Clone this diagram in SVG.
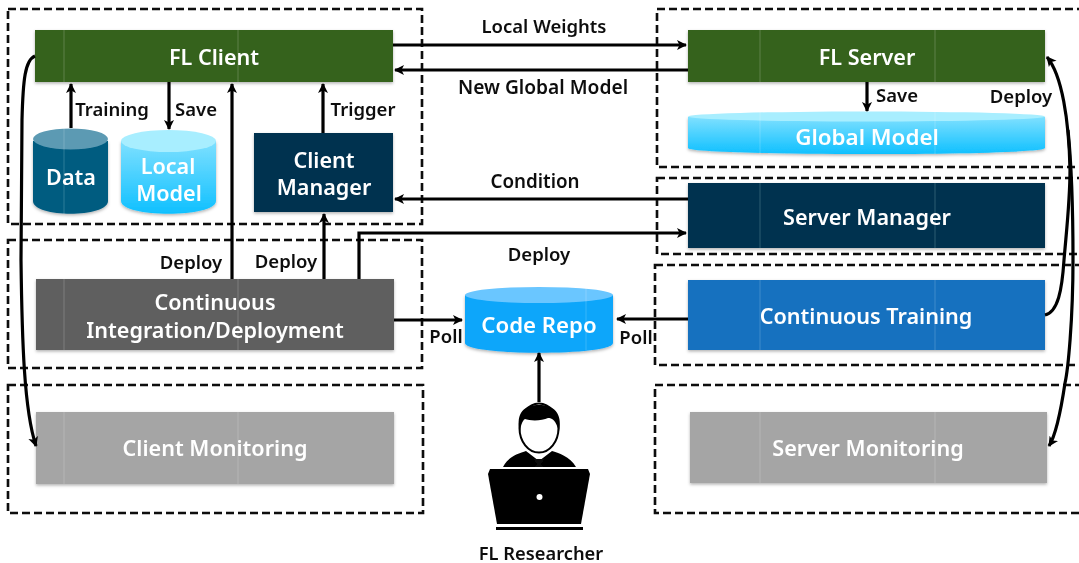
<svg xmlns="http://www.w3.org/2000/svg" width="1079" height="563" viewBox="0 0 1079 563">
<style>
text{font-family:"Noto Sans","Open Sans","Liberation Sans",sans-serif;text-anchor:middle}
.w{fill:#fff;font-weight:600;font-size:21.6px}
.k{fill:#111;font-weight:600;font-size:18.5px}
.d{fill:none;stroke:#111;stroke-width:2.6;stroke-dasharray:8 4}
.c{fill:none;stroke:#000;stroke-width:3.2;marker-end:url(#a)}
.l{fill:none;stroke:#000;stroke-width:3.2}
.s{filter:url(#sh)}
.g{fill:#36621a}.n{fill:#02304f}.m{fill:#a5a5a5}
.seam{fill:none;stroke:#fff;stroke-opacity:.2;stroke-width:1}
</style>
<defs>
<marker id="a" markerUnits="userSpaceOnUse" markerWidth="12" markerHeight="12" refX="9" refY="6" orient="auto"><path d="M0,1 L10,6 L0,11 L2.500,6 Z" fill="#000"/></marker>
<filter id="sh" x="-5%" y="-10%" width="110%" height="125%"><feDropShadow dx="0" dy="1.500" stdDeviation="1.500" flood-color="#000" flood-opacity=".3"/></filter>
<filter id="soft"><feGaussianBlur stdDeviation=".45"/></filter>
<linearGradient id="lb" x1="0" y1="0" x2="0" y2="1"><stop offset="0" stop-color="#7fe0ff"/><stop offset="1" stop-color="#0fc0ff"/></linearGradient>
</defs>
<rect width="1079" height="563" fill="#fff"/>
<g filter="url(#soft)">
<g id="zones">
<rect class="d" x="8" y="9" width="414" height="215"/>
<rect class="d" x="8" y="240" width="414" height="128"/>
<rect class="d" x="8" y="385" width="415" height="128"/>
<rect class="d" x="657" y="9" width="430" height="158"/>
<rect class="d" x="657" y="178" width="430" height="76"/>
<rect class="d" x="655" y="265" width="430" height="100"/>
<rect class="d" x="655" y="385" width="430" height="128"/>
</g>
<g id="fl-client"><rect class="g s" x="35" y="30" width="358" height="52"/><text class="w" x="214" y="65">FL Client</text></g>
<g id="data"><path class="s" d="M33,141 V201 C33,218 108,218 108,201 V141 Z" fill="#045c80"/><ellipse cx="70.500" cy="139" rx="37.500" ry="10.500" fill="#5b9ab3"/><text class="w" x="71" y="185">Data</text></g>
<g id="local-model"><path class="s" d="M121,141 V201 C121,218 216,218 216,201 V141 Z" fill="url(#lb)"/><ellipse cx="168.500" cy="141" rx="47.500" ry="11" fill="#a8eeff"/><text class="w" x="168" y="174">Local<tspan x="169" dy="27">Model</tspan></text></g>
<g id="client-manager"><rect class="n s" x="254" y="133" width="139" height="79"/><text class="w" x="324" y="168">Client<tspan x="324" dy="27">Manager</tspan></text></g>
<g id="fl-server"><rect class="g s" x="688" y="30" width="357" height="52"/><text class="w" x="867" y="65">FL Server</text></g>
<g id="global-model"><path class="s" d="M688,117 V148 C688,156 1045,156 1045,148 V117 Z" fill="url(#lb)"/><ellipse cx="866.500" cy="116.500" rx="178.500" ry="5" fill="#a8eeff"/><text class="w" style="font-size:22.400px" x="867" y="145">Global Model</text></g>
<g id="server-manager"><rect class="n s" x="688" y="183" width="357" height="65"/><text class="w" x="867" y="225">Server Manager</text></g>
<g id="continuous-training"><rect class="s" fill="#1271bf" x="688" y="280" width="357" height="70"/><text class="w" x="866" y="324">Continuous Training</text></g>
<g id="server-monitoring"><rect class="m s" x="690" y="412" width="357" height="71"/><text class="w" x="868" y="456">Server Monitoring</text></g>
<g id="ci-cd"><rect class="s" fill="#5f5f5f" x="36" y="279" width="358" height="71"/><text class="w" x="215" y="310">Continuous<tspan x="215" dy="28">Integration/Deployment</tspan></text></g>
<g id="client-monitoring"><rect class="m s" x="36" y="412" width="358" height="72"/><text class="w" x="215" y="456">Client Monitoring</text></g>
<g id="code-repo"><path class="s" d="M465,295 V343 C465,356 613,356 613,343 V295 Z" fill="#0da6fa"/><ellipse cx="539" cy="295" rx="74" ry="8" fill="#6bc6ff"/><text class="w" style="font-size:22.200px" x="539" y="333">Code Repo</text></g>
<path class="seam" d="M64,30V82M238,30V82M64,128V214M64,279V350M238,279V350M64,412V484M238,412V484M760,30V82M935,30V82M760,112V154M935,112V154M760,183V248M935,183V248M760,280V350M935,280V350M760,412V483M935,412V483M586,288V350"/>
<g id="fl-researcher">
<path d="M503,467 C508,456 520,453 526,451 L539,461 L552,451 C558,453 570,456 576,467 Z" fill="#000"/>
<path d="M534,459 H544 L541,464 L543,467 H535 L537,464 Z" fill="#111"/>
<ellipse cx="539" cy="428" rx="19.500" ry="24.500" fill="#fff" stroke="#000" stroke-width="2"/>
<path d="M520,432 C515,412 525,405 539,405 C553,405 563,412 559,432 C556,420 552,418 548,418 C542,421 530,421 525,419 C522,421 521,425 520,432 Z" fill="#000"/>
<path d="M490,469 H588 L590,474 L581,524 H497 L488,474 Z" fill="#000"/>
<circle cx="539.500" cy="497" r="3" fill="#fff"/>
<rect x="496" y="527" width="87" height="3" fill="#000"/>
<text class="k" style="font-size:18.300px" x="541" y="560">FL Researcher</text>
</g>
<g id="connectors">
<path class="c" d="M393,45H686"/>
<path class="c" d="M688,70H395"/>
<path class="c" d="M688,199H395"/>
<path class="c" d="M359,279V233H686"/>
<path class="c" d="M394,320H462"/>
<path class="c" d="M688,319H617"/>
<path class="c" d="M539,402V353"/>
<path class="c" d="M71,128V84"/>
<path class="c" d="M169,82V129"/>
<path class="c" d="M323,133V84"/>
<path class="c" d="M232,279V84"/>
<path class="c" d="M324,279V214"/>
<path class="c" d="M867,82V111"/>
<path class="c" d="M35,56C25,60 23,80 22,120L21,260C22,340 24,410 36,446"/>
<path class="c" d="M1045,315C1058,312 1062,290 1064,260C1067,225 1070,200 1070,170C1069,120 1062,75 1047,57"/>
<path class="c" d="M1068,130C1072,170 1073,220 1073,260C1073,320 1068,370 1065,383C1061,410 1056,435 1049,446"/>
</g>
<g id="labels">
<text class="k" x="544" y="33">Local Weights</text>
<text class="k" style="font-size:19.200px" x="543" y="94">New Global Model</text>
<text class="k" x="112" y="116">Training</text>
<text class="k" x="196" y="116">Save</text>
<text class="k" x="363" y="116">Trigger</text>
<text class="k" x="897" y="102">Save</text>
<text class="k" x="1021" y="103">Deploy</text>
<text class="k" style="font-size:18.800px" x="535" y="188">Condition</text>
<text class="k" x="539" y="261">Deploy</text>
<text class="k" x="191" y="269">Deploy</text>
<text class="k" x="286" y="268">Deploy</text>
<text class="k" x="446" y="343">Poll</text>
<text class="k" x="636" y="344">Poll</text>
</g>
</g>
</svg>
